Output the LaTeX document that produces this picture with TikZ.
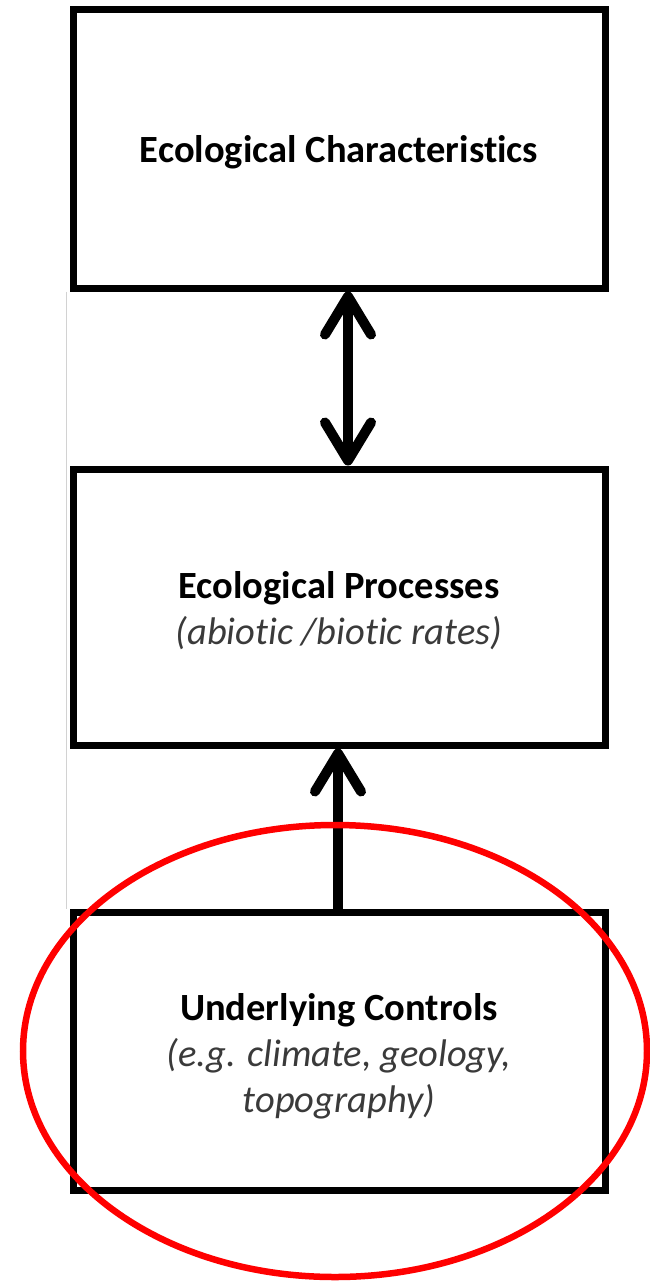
\documentclass[tikz,border=0pt]{standalone}
\usepackage{fontspec}
\setmainfont{Carlito}[Ligatures=NoCommon]
\usetikzlibrary{arrows.meta,shapes.geometric}
\definecolor{subgray}{HTML}{3A3A3A}
\begin{document}
\begin{tikzpicture}[x=1pt,y=-1pt,
  box/.style={draw=black, line width=7pt, minimum width=532pt, inner sep=0pt},
  conn/.style={line width=10pt, line cap=round, line join=round,
    arrows={-Straight Barb[length=38pt,width=46pt,line cap=round,line join=round]}},
  dconn/.style={line width=10pt, line cap=round, line join=round,
    arrows={Straight Barb[length=38pt,width=46pt,line cap=round,line join=round]-Straight Barb[length=38pt,width=46pt,line cap=round,line join=round]}},
  lbl/.style={align=center, inner sep=0pt, font=\fontsize{38.5}{46}\selectfont}]
\useasboundingbox (0,0) rectangle (650,1282);
\node[box, minimum height=279pt] (top) at (339,148.5) {};
\node[box, minimum height=276pt] (mid) at (339,607) {};
\node[box, minimum height=278pt] (bot) at (339,1051) {};
\node[lbl] (toptext) at (339,152) {\bfseries Ecological Characteristics};
\node[lbl] (midtext) at (339,611) {\textbf{Ecological Processes}\\{\itshape\color{subgray}(abiotic /biotic rates)}};
\node[lbl] (bottext) at (339,1056) {\textbf{Underlying Controls}\\{\itshape\color{subgray}(e.g. climate, geology,}\\{\itshape\color{subgray}topography)}};
\draw[gray!35, line width=1pt] ([xshift=-3pt]top.south west) -- ([xshift=-3pt]bot.north west);
\draw[dconn] ([xshift=9pt]top.south) -- ([xshift=9pt]mid.north);
\draw[conn] ([xshift=-1pt]bot.north) -- ([xshift=-1pt]mid.south);
\node[draw=red, line width=6.5pt, ellipse, minimum width=624pt, minimum height=452pt, inner sep=0pt] (circ) at (335,1051) {};
\end{tikzpicture}
\end{document}
